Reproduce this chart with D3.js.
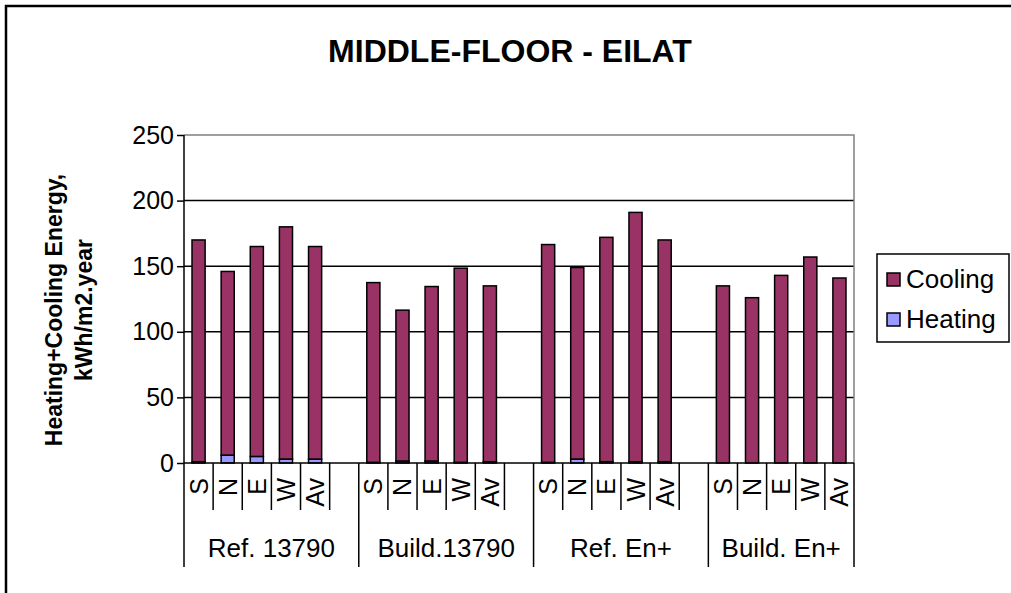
<!DOCTYPE html>
<html>
<head>
<meta charset="utf-8">
<script src="https://cdn.jsdelivr.net/npm/d3@7"></script>
<style>
  html, body { margin: 0; background: #fff; overflow: hidden; }
  svg { display: block; }
  text { font-family: "Liberation Sans", Arial, sans-serif; }
</style>
</head>
<body>
<div id="canvas"></div>
<script>
"use strict"

/* Data */
let groups = ["Ref. 13790", "Build.13790", "Ref. En+", "Build. En+"];
let directions = ["S", "N", "E", "W", "Av"];
let cooling = [
    [169, 140, 160, 177, 162],
    [137, 115, 133, 148, 134],
    [166, 146, 171, 190, 169],
    [135, 126, 143, 157, 141]
];
let heating = [
    [1, 6, 5, 3, 3],
    [0.5, 1.5, 1.5, 0.5, 1],
    [0.5, 3, 1, 1, 1],
    [0, 0, 0, 0, 0]
];
let yTicks = [0, 50, 100, 150, 200, 250];
let seriesNames = ["Cooling", "Heating"];

/* Config: drawing */
let svgWidth = 1011;
let svgHeight = 593;
let plot = { left: 184, right: 854, top: 135, bottom: 463 };
let coolColor = "#993366";
let heatColor = "#9999ff";

let svg = d3.select("#canvas")
    .append("svg")
    .attr("width", svgWidth)
    .attr("height", svgHeight);

// outer chart border: only left and top edges are inside the picture
svg.append("path")
    .attr("d", "M6,600V6H1020")
    .attr("fill", "none")
    .attr("stroke", "black")
    .attr("stroke-width", 2.5);

/* build category slots: blank slot after each group except the last */
let slots = [];
groups.forEach(function (g, gi) {
    directions.forEach(function (d, di) {
        slots.push({ key: gi + "-" + d, group: gi, dir: d, di: di });
    });
    if (gi < groups.length - 1) slots.push({ key: gi + "-blank", group: gi, dir: null });
});

let xScale = d3.scaleBand()
    .domain(slots.map(s => s.key))
    .range([plot.left, plot.right])
    .paddingInner(0).paddingOuter(0);

let yScale = d3.scaleLinear()
    .domain([0, 250])
    .range([plot.bottom, plot.top]);

/* gridlines */
svg.selectAll("line.grid")
    .data(yTicks.filter(v => v > 0 && v < 250))
    .join("line")
    .attr("class", "grid")
    .attr("x1", plot.left).attr("x2", plot.right)
    .attr("y1", v => yScale(v)).attr("y2", v => yScale(v))
    .attr("stroke", "black")
    .attr("stroke-width", 1.5);

// plot area border (top + right in grey)
svg.append("path")
    .attr("d", "M" + plot.left + "," + yScale(250) + "H" + plot.right + "V" + plot.bottom)
    .attr("fill", "none")
    .attr("stroke", "#808080")
    .attr("stroke-width", 1.5);

/* bars */
let barData = [];
slots.filter(s => s.dir !== null).forEach(function (s) {
    let h = heating[s.group][s.di];
    let c = cooling[s.group][s.di];
    barData.push({ key: s.key, y0: 0, y1: h, color: heatColor });
    barData.push({ key: s.key, y0: h, y1: h + c, color: coolColor });
});

let barW = xScale.bandwidth() * 0.45;
svg.selectAll("rect.bar")
    .data(barData.filter(d => d.y1 > d.y0))
    .join("rect")
    .attr("class", "bar")
    .attr("x", d => xScale(d.key) + (xScale.bandwidth() - barW) / 2)
    .attr("width", barW)
    .attr("y", d => yScale(d.y1))
    .attr("height", d => yScale(d.y0) - yScale(d.y1))
    .attr("fill", d => d.color)
    .attr("stroke", "black")
    .attr("stroke-width", 1.5);

/* y axis */
let yAxis = d3.axisLeft(yScale)
    .tickValues(yTicks)
    .tickSize(7)
    .tickPadding(3)
    .tickFormat(d3.format("d"));

let yAxisG = svg.append("g")
    .attr("transform", "translate(" + plot.left + ",0)")
    .call(yAxis);
yAxisG.select(".domain").remove();
yAxisG.selectAll(".tick line").attr("stroke", "black").attr("stroke-width", 1.5);
yAxisG.selectAll(".tick text")
    .attr("font-size", 25)
    .attr("fill", "black")
    .style("font-family", "'Liberation Sans', Arial, sans-serif");

// y axis line extends down through the category rows
svg.append("line")
    .attr("x1", plot.left).attr("x2", plot.left)
    .attr("y1", plot.top).attr("y2", 567)
    .attr("stroke", "black").attr("stroke-width", 1.5);

/* x axis baseline */
svg.append("line")
    .attr("x1", plot.left).attr("x2", plot.right)
    .attr("y1", plot.bottom).attr("y2", plot.bottom)
    .attr("stroke", "black").attr("stroke-width", 1.5);

/* category separators: short between slots, long between groups */
let step = xScale.step();
slots.forEach(function (s, i) {
    let x = xScale(s.key) + step;
    let groupEnd = (i === slots.length - 1) || slots[i + 1].group !== s.group;
    svg.append("line")
        .attr("x1", x).attr("x2", x)
        .attr("y1", plot.bottom).attr("y2", groupEnd ? 567 : 510)
        .attr("stroke", "black").attr("stroke-width", 1.5);
});

/* direction labels, rotated */
svg.selectAll("text.dir")
    .data(slots.filter(s => s.dir !== null))
    .join("text")
    .attr("class", "dir")
    .attr("transform", d => "translate(" + (xScale(d.key) + step / 2 + 9) + ",478) rotate(-90)")
    .attr("text-anchor", "end")
    .attr("font-size", 25)
    .text(d => d.dir);

/* group labels */
svg.selectAll("text.grp")
    .data(groups)
    .join("text")
    .attr("class", "grp")
    .attr("x", function (g, gi) {
        let ks = slots.filter(s => s.group === gi);
        let x0 = xScale(ks[0].key);
        let x1 = xScale(ks[ks.length - 1].key) + step;
        return (x0 + x1) / 2;
    })
    .attr("y", 557)
    .attr("text-anchor", "middle")
    .attr("font-size", 26)
    .text(g => g);

/* title */
svg.append("text")
    .attr("x", 510)
    .attr("y", 62)
    .attr("text-anchor", "middle")
    .attr("font-size", 32)
    .attr("font-weight", "bold")
    .text("MIDDLE-FLOOR - EILAT");

/* y axis title (two lines) */
let yTitle = svg.append("text")
    .attr("transform", "translate(0,310) rotate(-90)")
    .attr("text-anchor", "middle")
    .attr("font-size", 23)
    .attr("font-weight", "bold");
yTitle.append("tspan").attr("x", 0).attr("y", 62).text("Heating+Cooling Energy,");
yTitle.append("tspan").attr("x", 0).attr("y", 92).text("kWh/m2.year");

/* legend */
svg.append("rect")
    .attr("x", 877).attr("y", 254)
    .attr("width", 132).attr("height", 88)
    .attr("fill", "white")
    .attr("stroke", "black")
    .attr("stroke-width", 1.5);

let legend = svg.selectAll("g.leg")
    .data(seriesNames)
    .join("g")
    .attr("class", "leg")
    .attr("transform", (d, i) => "translate(887," + (273 + i * 40) + ")");

legend.append("rect")
    .attr("width", 13).attr("height", 13)
    .attr("fill", (d, i) => i === 0 ? coolColor : heatColor)
    .attr("stroke", "black")
    .attr("stroke-width", 1.5);

legend.append("text")
    .attr("x", 19)
    .attr("y", 15)
    .attr("font-size", 26)
    .text(d => d);
</script>
</body>
</html>
